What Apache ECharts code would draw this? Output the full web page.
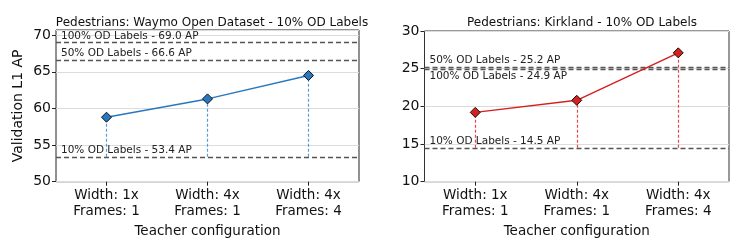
<!DOCTYPE html>
<html><head><meta charset="utf-8">
<script src="https://cdn.jsdelivr.net/npm/echarts@6/dist/echarts.min.js"></script>
<style>html,body{margin:0;padding:0;background:#fff}#c{width:747px;height:249px}</style>
</head><body><div id="c"></div>
<script>
const categories = ['Width: 1x\nFrames: 1', 'Width: 4x\nFrames: 1', 'Width: 4x\nFrames: 4'];
const waymoAP = [58.8, 61.3, 64.5];
const kirklandAP = [19.2, 20.8, 27.1];
const waymoRefValues = [69.0, 66.6, 53.4];
const waymoRefLabels = ['100% OD Labels - 69.0 AP', '50% OD Labels - 66.6 AP', '10% OD Labels - 53.4 AP'];
const kirklandRefValues = [25.2, 24.9, 14.5];
const kirklandRefLabels = ['50% OD Labels - 25.2 AP', '100% OD Labels - 24.9 AP', '10% OD Labels - 14.5 AP'];

const FONT = 'DejaVu Sans';
const chart = echarts.init(document.getElementById('c'), null, {renderer: 'canvas'});

function refLines(values, labels, belowIdx) {
  return values.map((v, i) => ({
    yAxis: v,
    label: {
      show: true, formatter: labels[i],
      position: i === belowIdx ? 'insideStartBottom' : 'insideStartTop',
      distance: [5, 1], color: '#222', fontFamily: FONT, fontSize: 10.5
    }
  }));
}
function dropLines(vals, base) {
  return vals.map((v, i) => [{coord: [i, base]}, {coord: [i, v]}]);
}
function xAxis(gi) {
  return {
    type: 'category', gridIndex: gi, data: categories, boundaryGap: true,
    axisLine: {show: false},
    axisTick: {show: true, alignWithLabel: true, length: 4, lineStyle: {color: '#222'}},
    axisLabel: {color: '#111', fontFamily: FONT, fontSize: 13.5, lineHeight: 16, margin: 6},
    name: 'Teacher configuration', nameLocation: 'middle', nameGap: 42,
    nameTextStyle: {color: '#111', fontFamily: FONT, fontSize: 13.5},
    splitLine: {show: false}
  };
}
function yAxis(gi, min, max, name) {
  return {
    type: 'value', gridIndex: gi, min: min, max: max, interval: 5,
    axisLine: {show: false},
    axisTick: {show: true, length: 4, lineStyle: {color: '#222'}},
    axisLabel: {color: '#111', fontFamily: FONT, fontSize: 14, margin: 5,
      showMaxLabel: max % 5 === 0,
      formatter: v => (v % 5 === 0 ? String(v) : '')},
    splitLine: {show: true, lineStyle: {color: '#dcdcdc', width: 1.2}},
    name: name, nameLocation: 'middle', nameGap: 31,
    nameTextStyle: {color: '#111', fontFamily: FONT, fontSize: 14}
  };
}

const option = {
  animation: false,
  backgroundColor: '#fff',
  title: [
    {text: 'Pedestrians: Waymo Open Dataset - 10% OD Labels', left: 207, top: 12, textAlign: 'center',
     textStyle: {fontFamily: FONT, fontSize: 12, fontWeight: 'normal', color: '#111'}},
    {text: 'Pedestrians: Kirkland - 10% OD Labels', left: 577, top: 12, textAlign: 'center',
     textStyle: {fontFamily: FONT, fontSize: 12, fontWeight: 'normal', color: '#111'}}
  ],
  grid: [
    {left: 56, width: 303, top: 30, height: 151.7, show: true, borderColor: '#222', borderWidth: 1, backgroundColor: 'transparent'},
    {left: 424.5, width: 304.5, top: 31, height: 150.7, show: true, borderColor: '#333', borderWidth: 1, backgroundColor: 'transparent'}
  ],
  xAxis: [xAxis(0), xAxis(1)],
  yAxis: [yAxis(0, 50, 70.7, 'Validation L1 AP'), yAxis(1, 10, 30, '')],
  series: [
    {
      type: 'line', xAxisIndex: 0, yAxisIndex: 0, data: [], silent: true,
      markLine: {symbol: 'none', silent: true,
        lineStyle: {color: '#5b9bd5', type: [3, 2], width: 1.2},
        label: {show: false}, data: dropLines(waymoAP, waymoRefValues[2])}
    },
    {
      type: 'line', xAxisIndex: 0, yAxisIndex: 0, data: [], silent: true,
      markLine: {symbol: 'none', silent: true,
        lineStyle: {color: '#555', type: [5, 3], width: 1.3},
        data: refLines(waymoRefValues, waymoRefLabels, -1)}
    },
    {
      type: 'line', xAxisIndex: 0, yAxisIndex: 0, data: waymoAP,
      lineStyle: {color: '#2878c0', width: 1.5},
      symbol: 'diamond', symbolSize: 10,
      itemStyle: {color: '#2878c0', borderColor: '#111', borderWidth: 1}, z: 5
    },
    {
      type: 'line', xAxisIndex: 1, yAxisIndex: 1, data: [], silent: true,
      markLine: {symbol: 'none', silent: true,
        lineStyle: {color: '#e8474a', type: [3, 2], width: 1.2},
        label: {show: false}, data: dropLines(kirklandAP, kirklandRefValues[2])}
    },
    {
      type: 'line', xAxisIndex: 1, yAxisIndex: 1, data: [], silent: true,
      markLine: {symbol: 'none', silent: true,
        lineStyle: {color: '#555', type: [5, 3], width: 1.3},
        data: refLines(kirklandRefValues, kirklandRefLabels, 1)}
    },
    {
      type: 'line', xAxisIndex: 1, yAxisIndex: 1, data: kirklandAP,
      lineStyle: {color: '#d62020', width: 1.5},
      symbol: 'diamond', symbolSize: 10,
      itemStyle: {color: '#d62020', borderColor: '#111', borderWidth: 1}, z: 5
    }
  ]
};
chart.setOption(option);
</script></body></html>
